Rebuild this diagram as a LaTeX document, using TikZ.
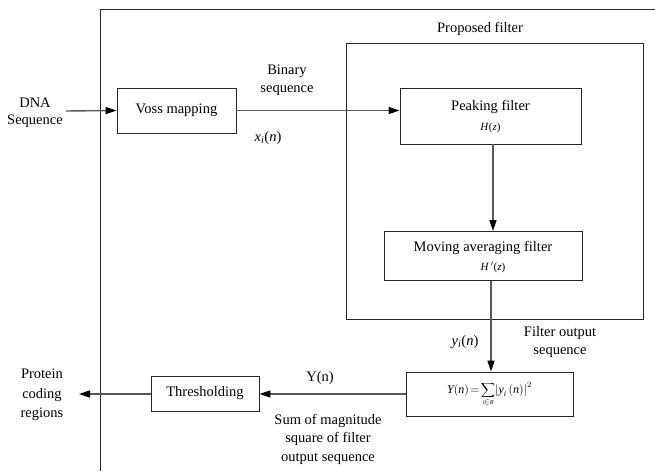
\documentclass[tikz,border=0pt]{standalone}
\usepackage{fontspec}
\setmainfont{Liberation Serif}
\usetikzlibrary{arrows.meta}
\begin{document}
\begin{tikzpicture}[x=1pt,y=-1pt,
  every node/.style={font=\fontsize{14.5}{17.5}\selectfont, inner sep=0pt},
  blk/.style={draw=black!85, line width=0.9pt, fill=white},
  lbl/.style={align=center},
  conn/.style={draw=black!65, line width=1.4pt},
  arr/.style={conn, -{Triangle[length=11pt,width=7pt,fill=black,color=black]}},
  small/.style={font=\fontsize{11}{13}\selectfont}
]
\useasboundingbox (0,0) rectangle (655,471);
% outer frame (open right and bottom)
\coordinate (fbl) at (100,471);
\coordinate (ftl) at (100,9);
\coordinate (ftr) at (655,9);
\draw[draw=black!85, line width=1pt] (fbl) -- (ftl) -- (ftr);

% proposed filter box
\node[blk, minimum width=297pt, minimum height=276pt, fill=none] (pf) at (494.5,181) {};
\node[lbl] (pflbl) at (480,29) {Proposed filter};

% blocks
\node[blk, minimum width=119pt, minimum height=45pt] (voss) at (176.5,110.5) {Voss mapping};
\node[blk, minimum width=181pt, minimum height=56pt] (peak) at (490.5,116) {};
\node (peakt) at (490.5,107) {Peaking filter};
\node[small] (peakh) at (490.5,128) {\textit{H}(\textit{z})};
\node[blk, minimum width=198pt, minimum height=49pt] (mov) at (483,256) {};
\node (movt) at (483,248) {Moving averaging filter};
\node[small] (movh) at (493,267) {\textit{H}\,$'$(\textit{z})};
\node[blk, minimum width=167pt, minimum height=44pt] (ybox) at (489.5,394)
  {\fontsize{12}{14}\selectfont $\displaystyle\mbox{\itshape Y}\!\left(\mbox{\itshape n}\right)\!=\!\sum_{\mbox{\fontsize{6}{7}\selectfont\itshape i}\in \mbox{\fontsize{6}{7}\selectfont\itshape B}}\!\left|\mbox{\itshape y}_{\mbox{\fontsize{8}{9}\selectfont\itshape i}}\,(\mbox{\itshape n})\right|^2$};
\node[blk, minimum width=108pt, minimum height=35pt] (thr) at (205,393.5) {Thresholding};

% free-end coordinates
\coordinate (dnaend) at (66,111);
\coordinate (protend) at (79,394);

% texts
\node[lbl] (dna) at (35,113) {DNA\\Sequence};
\node[lbl] (bin) at (287,80) {Binary\\sequence};
\node (xin) at (268,138) {\textit{x}\textsubscript{\textit{i}}(\textit{n})};
\node (yin) at (465,342) {\textit{y}\textsubscript{\textit{i}}(\textit{n})};
\node[lbl] (fos) at (560,342) {Filter output\\sequence};
\node (Yn) at (320,378) {Y(n)};
\node[lbl, font=\fontsize{14.5}{18.5}\selectfont] (sum) at (328,439) {Sum of magnitude\\square of filter\\output sequence};
\node[lbl, font=\fontsize{14.5}{19.5}\selectfont] (prot) at (42,395) {Protein\\coding\\regions};

% connectors
\draw[arr] (dnaend) -- (voss.west);
\draw[arr] (voss.east) -- (peak.west |- voss.east);
\draw[arr] (peak.south -| 493,0) -- (mov.north -| 493,0);
\draw[arr] (mov.south -| 491,0) -- (ybox.north -| 491,0);
\draw[arr] (ybox.west) -- (thr.east |- ybox.west);
\draw[arr] (thr.west |- protend) -- (protend);
\end{tikzpicture}
\end{document}
